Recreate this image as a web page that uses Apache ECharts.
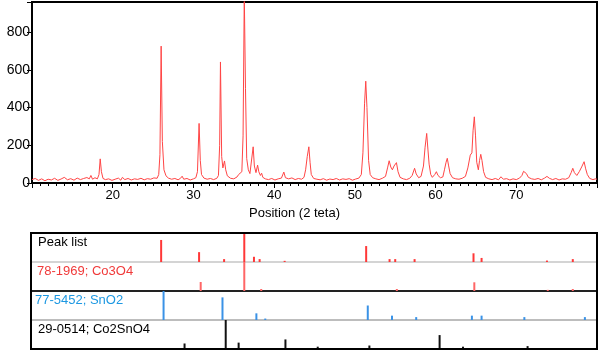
<!DOCTYPE html>
<html>
<head>
<meta charset="utf-8">
<script src="https://cdn.jsdelivr.net/npm/echarts@6/dist/echarts.min.js"></script>
<style>
  html, body { margin: 0; padding: 0; background: #fff; }
  #chart { width: 600px; height: 351px; }
</style>
</head>
<body>
<div id="chart"></div>
<script>
// XRD pattern (2 theta, counts)
var xrdX = [10.0, 10.4, 10.8, 11.2, 11.6, 12.0, 12.4, 12.8, 13.2, 13.6, 14.0, 14.4, 14.8, 15.2, 15.6, 16.0, 16.4, 16.8, 17.1, 17.3, 17.5, 17.8, 18.1, 18.3, 18.45, 18.6, 18.8, 19.1, 19.5, 19.9,
  20.3, 20.7, 21.0, 21.2, 21.5, 21.9, 22.3, 22.7, 23.1, 23.5, 23.9, 24.3, 24.7, 25.1, 25.5, 25.7, 25.85, 26.0, 26.15, 26.35, 26.6, 26.9, 27.3, 27.7, 28.1, 28.4, 28.6, 28.8, 29.2, 29.6,
  30.0, 30.3, 30.5, 30.7, 30.85, 31.0, 31.3, 31.7, 32.1, 32.5, 32.9, 33.1, 33.25, 33.35, 33.5, 33.65, 33.85, 34.0, 34.2, 34.6, 35.0, 35.4, 35.6, 35.8, 36.0, 36.15, 36.3, 36.45, 36.6, 36.8,
  37.0, 37.2, 37.4, 37.55, 37.75, 37.95, 38.1, 38.3, 38.45, 38.6, 38.9, 39.3, 39.7, 40.1, 40.5, 40.9, 41.2, 41.4, 41.8, 42.2, 42.6, 43.0, 43.4, 43.7, 43.9, 44.1, 44.3, 44.45, 44.6, 44.9,
  45.3, 45.7, 46.1, 46.5, 46.9, 47.3, 47.7, 48.1, 48.5, 48.9, 49.3, 49.7, 50.1, 50.5, 50.8, 51.0, 51.2, 51.35, 51.5, 51.7, 51.9, 52.2, 52.6, 53.0, 53.4, 53.8, 54.05, 54.25, 54.45, 54.65,
  54.85, 55.15, 55.35, 55.6, 56.0, 56.4, 56.8, 57.1, 57.4, 57.6, 57.9, 58.2, 58.5, 58.7, 58.9, 59.05, 59.2, 59.4, 59.6, 59.9, 60.1, 60.3, 60.6, 60.9, 61.1, 61.3, 61.45, 61.6, 61.8, 62.1,
  62.5, 62.9, 63.3, 63.7, 64.0, 64.3, 64.5, 64.65, 64.8, 64.95, 65.1, 65.3, 65.45, 65.6, 65.75, 65.95, 66.2, 66.6, 67.0, 67.4, 67.8, 68.1, 68.4, 68.8, 69.2, 69.6, 70.0, 70.4, 70.7, 70.9,
  71.05, 71.25, 71.5, 71.9, 72.3, 72.7, 73.1, 73.5, 73.8, 74.1, 74.5, 74.9, 75.3, 75.7, 76.1, 76.5, 76.8, 77.0, 77.2, 77.5, 77.8, 78.1, 78.4, 78.6, 78.8, 79.1, 79.5, 79.8, 80.0];
var xrdY = [18, 24, 14, 22, 12, 20, 16, 25, 14, 21, 30, 17, 23, 15, 26, 18, 24, 29, 22, 40, 20, 28, 22, 45, 128, 60, 24, 18, 22, 14,
  20, 26, 15, 30, 18, 24, 16, 22, 19, 25, 17, 23, 20, 27, 25, 45, 150, 726, 220, 70, 38, 26, 20, 24, 17, 25, 36, 20, 24, 16,
  22, 28, 60, 316, 120, 45, 26, 20, 24, 18, 25, 40, 200, 642, 140, 80, 117, 70, 38, 25, 22, 32, 45, 35, 60, 250, 1000, 500, 130, 70,
  50, 60, 192, 90, 55, 95, 60, 40, 52, 30, 22, 18, 24, 16, 22, 26, 58, 28, 22, 27, 18, 24, 20, 30, 70, 140, 192, 110, 45, 24,
  20, 17, 23, 15, 21, 18, 24, 16, 22, 19, 23, 15, 21, 26, 45, 160, 420, 540, 400, 120, 45, 28, 22, 18, 25, 35, 80, 118, 85, 70,
  90, 108, 60, 30, 22, 18, 25, 40, 78, 48, 28, 35, 90, 190, 263, 180, 100, 45, 30, 45, 60, 40, 28, 32, 70, 110, 131, 95, 50, 28,
  22, 20, 25, 35, 80, 148, 160, 280, 351, 250, 110, 70, 120, 152, 120, 60, 30, 22, 18, 24, 17, 33, 20, 23, 16, 22, 18, 26, 40, 62,
  72, 50, 30, 22, 19, 24, 17, 26, 35, 25, 18, 24, 16, 22, 20, 28, 55, 78, 55, 40, 60, 85, 113, 75, 45, 24, 18, 22, 20];

// stick patterns (position, relative intensity)
var peakPos = [26.0, 30.7, 33.8, 36.3, 37.5, 38.2, 41.3, 51.4, 54.3, 55.0, 57.4, 64.7, 65.7, 73.8, 77.0];
var peakRel = [0.76, 0.34, 0.1, 1.0, 0.18, 0.1, 0.04, 0.55, 0.1, 0.1, 0.1, 0.3, 0.14, 0.05, 0.1];
var co3o4Pos = [30.9, 36.3, 38.4, 55.2, 64.8, 73.9, 77.0];
var co3o4Rel = [0.31, 1.0, 0.07, 0.07, 0.3, 0.04, 0.07];
var sno2Pos = [26.3, 33.6, 37.8, 38.9, 51.6, 54.6, 57.6, 64.5, 65.7, 71.0, 78.5];
var sno2Rel = [1.0, 0.78, 0.23, 0.05, 0.5, 0.15, 0.1, 0.15, 0.15, 0.1, 0.1];
var co2sno4Pos = [28.9, 34.0, 35.6, 41.4, 45.4, 51.8, 60.5, 63.4, 71.4];
var co2sno4Rel = [0.19, 1.0, 0.22, 0.33, 0.08, 0.12, 0.48, 0.08, 0.1];

var rowNames = ['Peak list', '78-1969; Co3O4', '77-5452; SnO2', '29-0514; Co2SnO4'];
var rowColors = ['#000', '#f03a3a', '#1d98e2', '#000'];

function pairs(a, b) {
  return a.map(function (v, i) { return [v, b[i]]; });
}

var myChart = echarts.init(document.getElementById('chart'));
var font = 'Liberation Sans, Arial, sans-serif';

var rowTops = [233, 262, 291, 320];
var rowLine = [
  { color: '#d4d4d4', width: 2 },
  { color: '#222', width: 2 },
  { color: '#a8a8a8', width: 1.5 },
  { color: '#000', width: 2 }
];
var stickColors = ['#ff3838', '#ff6666', '#3a92e6', '#111'];
var stickData = [pairs(peakPos, peakRel), pairs(co3o4Pos, co3o4Rel), pairs(sno2Pos, sno2Rel), pairs(co2sno4Pos, co2sno4Rel)];

var grids = [{ left: 32, top: 2, width: 565, height: 181, show: true, borderColor: '#000', borderWidth: 2 }];
var xAxes = [{
  type: 'value', gridIndex: 0, min: 10, max: 80, interval: 10,
  name: 'Position (2 teta)', nameLocation: 'middle', nameGap: 21,
  nameTextStyle: { color: '#000', fontSize: 13, fontFamily: font, padding: [0, 40, 0, 0] },
  axisLine: { lineStyle: { color: '#000', width: 2 } },
  axisTick: { show: true, length: 5, lineStyle: { color: '#000' } },
  minorTick: { show: true, splitNumber: 10, length: 3, lineStyle: { color: '#000' } },
  axisLabel: { showMinLabel: false, showMaxLabel: false, color: '#000', fontSize: 13, fontFamily: font, margin: 6 },
  splitLine: { show: false }
}];
var yAxes = [{
  type: 'value', gridIndex: 0, min: 0, max: 960, interval: 200,
  axisLine: { show: true, lineStyle: { color: '#000', width: 2 } },
  axisTick: { show: true, length: 5, lineStyle: { color: '#000' } },
  axisLabel: {
    color: '#000', fontSize: 14, fontFamily: font, margin: 2,
    formatter: function (v) { return v % 200 === 0 ? v : ''; }
  },
  splitLine: { show: false }
}];
var series = [{
  type: 'line', xAxisIndex: 0, yAxisIndex: 0,
  data: pairs(xrdX, xrdY),
  showSymbol: false, clip: true,
  lineStyle: { color: '#ff4545', width: 1 }
}];

for (var i = 0; i < 4; i++) {
  grids.push({ left: 32, top: rowTops[i], width: 565, height: 29 });
  xAxes.push({
    type: 'value', gridIndex: i + 1, min: 10, max: 80,
    axisLine: { show: true, onZero: false, lineStyle: rowLine[i] },
    axisTick: { show: false }, axisLabel: { show: false }, splitLine: { show: false }
  });
  yAxes.push({ type: 'value', gridIndex: i + 1, min: 0, max: 1, show: false });
  series.push({
    type: 'bar', xAxisIndex: i + 1, yAxisIndex: i + 1,
    data: stickData[i], barWidth: 2, z: 3,
    itemStyle: { color: stickColors[i] }
  });
}

var graphics = [{
  type: 'rect', shape: { x: 31, y: 233, width: 566, height: 116 },
  style: { fill: 'none', stroke: '#000', lineWidth: 2 }, z: 10
}];
var labelLeft = [38, 37, 35, 38];
for (var j = 0; j < 4; j++) {
  graphics.push({
    type: 'text', left: labelLeft[j], top: rowTops[j] + 3, z: 11,
    style: { text: rowNames[j], fill: rowColors[j], font: '13px ' + font }
  });
}

var option = {
  animation: false,
  grid: grids,
  xAxis: xAxes,
  yAxis: yAxes,
  series: series,
  graphic: graphics
};
myChart.setOption(option);
window.addEventListener('resize', function () {
  myChart.resize();
});
</script>
</body>
</html>
